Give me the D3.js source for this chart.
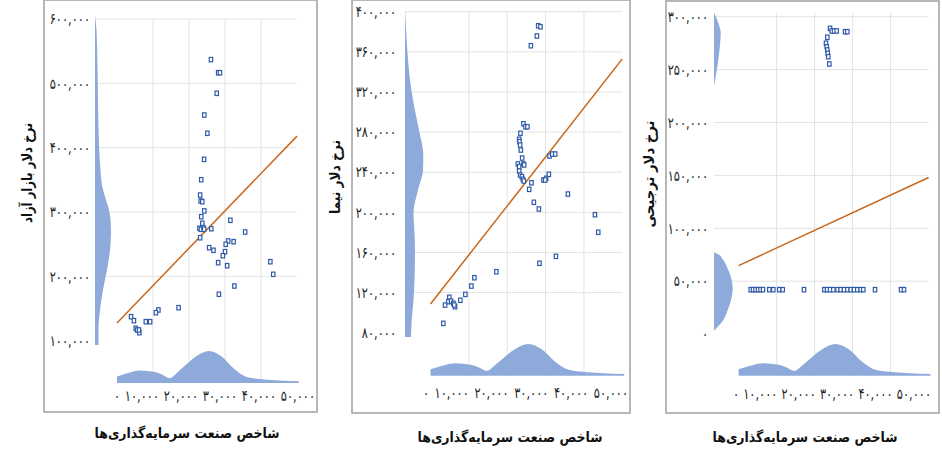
<!DOCTYPE html>
<html><head><meta charset="utf-8">
<script src="https://cdn.jsdelivr.net/npm/d3@7/dist/d3.min.js"></script>
<style>body{margin:0;background:#fff}svg{display:block}</style>
</head><body><svg id="c" width="942" height="455"></svg>
<script>
// ---------- DATA ----------
const xTitle = "شاخص صنعت سرمایه‌گذاری‌ها";
const yTitles = ["نرخ دلار بازار آزاد", "نرخ دلار نیما", "نرخ دلار ترجیحی"];
const xTicks = [0, 10000, 20000, 30000, 40000, 50000];
const yTicks1 = [100000, 200000, 300000, 400000, 500000, 600000];
const yTicks2 = [80000, 120000, 160000, 200000, 240000, 280000, 320000, 360000, 400000];
const yTicks3 = [0, 50000, 100000, 150000, 200000, 250000, 300000];

// Panel 1: free market rate
const p1X = [26100,28100,28600,27700,24250,25100,24200,23400,23100,23250,23700,24250,23400,23700,22900,23300,24000,24200,26200,23100,31500,35600,25600,26800,30900,32400,30200,30000,29400,28100,30600,42600,43400,32600,28300,17100,11500,10800,9200,8000,3900,4700,5200,5600,6200,6100];
const p1Y = [537000,516600,516600,484600,450800,422400,381900,350200,326400,317100,316000,301600,292700,282400,274700,273100,275600,273100,274000,260000,287100,268900,244500,240400,254900,253800,249800,238300,232000,221200,216500,222700,203100,184900,172000,151200,147600,143400,129400,129400,137200,131000,119100,116500,112300,116500];
// Panel 2: NIMA rate
const p2X = [28070,28670,27730,26160,24230,24750,25270,23450,23110,23190,23370,23550,23890,22770,23110,24230,24410,23110,23370,23810,24070,24330,26320,25720,26950,28250,31020,31720,32510,29450,30160,30860,29900,35820,42870,43730,32690,28410,17180,11440,10650,9090,7780,4910,4650,5350,5950,6400,6210,3790,3340];
const p2Y = [386000,385000,375800,366100,288300,285300,285300,278800,272800,270400,267100,262100,254100,248200,245500,248200,247200,241200,237200,235500,232900,231200,229500,222900,210000,203300,256100,258100,258100,232200,233900,237900,232200,218200,197600,180100,156100,149200,140800,134800,126500,118200,112300,115300,110900,111600,109300,105900,107600,107500,89300];
// Panel 3: preferential rate
const p3X = [24060,24500,25110,25820,28010,28610,23350,23000,23190,23350,23450,23610,23870,
  3180,3790,4450,5110,5760,6420,8080,9130,10710,11610,17210,22560,23270,24060,24930,26030,26870,27740,28610,29500,30370,31240,32140,32820,35900,42740,43530];
const p3Y = [289000,286500,286500,286500,285800,285800,280500,274900,271600,268500,265400,262200,255300,
  42000,42000,42000,42000,42000,42000,42000,42000,42000,42000,42000,42000,42000,42000,42000,42000,42000,42000,42000,42000,42000,42000,42000,42000,42000,42000,42000];

// linear fit lines (endpoints)
const trendX = [0, 50000];
const trend1Y = [127400, 418000];
const trend2Y = [108600, 353000];
const trend3Y = [64700, 148000];

// marginal density of the index (shared by all panels)
const xDensX = [0,3000,6500,10500,12500,14700,16500,18500,22000,25500,29000,32500,36000,41000,45000,50500];
const xDensV = [6.5,10,12.5,11,8.5,4.8,9.5,16,26.5,31.7,26.5,14,6,3.5,2.5,1.8];
// marginal densities of the rates
const yDens1V = [604800,583000,525500,474000,404000,365000,342000,318700,303000,287600,269000,241000,210000,178700,147600,116500,93000];
const yDens1D = [0,1.5,2.5,3,4,5.5,7,11,14,15.5,16,15,12,8,5,3.5,3.5];
const yDens2V = [403700,361800,331900,312000,282000,257100,242100,222200,199300,179400,159400,132500,112600,92700,75700];
const yDens2D = [0,2.3,5,8,14,18.3,18,13,8.5,9.5,10,9.5,8.5,6.7,6];
const yDens3V = [303800,292200,284600,273300,259100,244900,233300,77900,75000,70000,60500,51100,43300,32200,22700,13300,3200];
const yDens3D = [0,5,6.7,6,4.3,2,0,0,5,9.3,14.3,17.7,18.7,17,13.7,9.3,0];

// ---------- LAYOUT ----------
const panels = [
  {box:[44,0,317,412], xr:[117,297], ydom:[100000,600000], yr:[340.6,19.1], yt:yTicks1,
   lab:[120,315], labY:396, yLabR:90, dBase:95, dMax:16, xdBase:383, xdMax:32, gTop:19,
   xs:p1X, ys:p1Y, ty:trend1Y, dv:yDens1V, dd:yDens1D, tY:[27,173], tYL:100, tX:[187,433]},
  {box:[352,0,630,413], xr:[430.5,622.3], ydom:[80000,400000], yr:[332.7,11.7], yt:yTicks2,
   lab:[429,628], labY:393, yLabR:396, dBase:405, dMax:18.3, xdBase:375.7, xdMax:31.7, gTop:12,
   xs:p2X, ys:p2Y, ty:trend2Y, dv:yDens2V, dd:yDens2D, tY:[335,177], tYL:74, tX:[510,437]},
  {box:[666,1,939,413], xr:[738.6,928.6], ydom:[0,300000], yr:[334.1,16.7], yt:yTicks3,
   lab:[739,931], labY:394, yLabR:708, dBase:714, dMax:18.7, xdBase:375.7, xdMax:31.7, gTop:13,
   xs:p3X, ys:p3Y, ty:trend3Y, dv:yDens3V, dd:yDens3D, tY:[649,174], tYL:107, tX:[805,437]}
];

const fa = s => s.replace(/[0-9]/g, d => "۰۱۲۳۴۵۶۷۸۹"[+d]);
const fmt = v => fa(d3.format(",")(v));
const svg = d3.select("#c");
const FONT = "DejaVu Sans";
const XT_LEN = 185;

panels.forEach((p, i) => {
  const g = svg.append("g");
  const x = d3.scaleLinear().domain([0, 50000]).range(p.xr);
  const y = d3.scaleLinear().domain(p.ydom).range(p.yr);
  const xl = d3.scaleLinear().domain([0, 50000]).range(p.lab);
  const dw = d3.scaleLinear().domain([0, d3.max(p.dd)]).range([0, p.dMax]);
  const dh = d3.scaleLinear().domain([0, d3.max(xDensV)]).range([0, p.xdMax]);

  // box
  g.append("rect").attr("x", p.box[0]).attr("y", p.box[1])
    .attr("width", p.box[2]-p.box[0]).attr("height", p.box[3]-p.box[1])
    .attr("fill", "none").attr("stroke", "#a6a6a6").attr("stroke-width", 1.6);

  // grid
  g.append("g").selectAll("line").data(p.yt.slice(1)).join("line")
    .attr("x1", p.dBase).attr("x2", p.xr[1]).attr("y1", d => y(d)).attr("y2", d => y(d))
    .attr("stroke", "#e3e3e3").attr("stroke-width", 1);
  g.append("g").selectAll("line").data(xTicks.slice(1, -1)).join("line")
    .attr("x1", d => x(d)).attr("x2", d => x(d)).attr("y1", p.gTop).attr("y2", p.xdBase)
    .attr("stroke", "#e3e3e3").attr("stroke-width", 1);

  // y marginal density
  const yd = p.dv.map((v, k) => [v, p.dd[k]]);
  g.append("path").datum(yd)
    .attr("d", d3.area().curve(d3.curveMonotoneY)
      .y(d => y(d[0])).x0(p.dBase).x1(d => p.dBase + dw(d[1])))
    .attr("fill", "#8eaadb");

  // x marginal density
  const xd = xDensX.map((v, k) => [v, xDensV[k]]);
  g.append("path").datum(xd)
    .attr("d", d3.area().curve(d3.curveMonotoneX)
      .x(d => x(d[0])).y0(p.xdBase).y1(d => p.xdBase - dh(d[1])))
    .attr("fill", "#8eaadb");

  // trend line
  g.append("line")
    .attr("x1", x(trendX[0])).attr("y1", y(p.ty[0]))
    .attr("x2", x(trendX[1])).attr("y2", y(p.ty[1]))
    .attr("stroke", "#c9661a").attr("stroke-width", 1.5);

  // points
  g.append("g").selectAll("rect").data(p.xs.map((v, k) => [v, p.ys[k]])).join("rect")
    .attr("x", d => x(d[0]) - 1.7).attr("y", d => y(d[1]) - 2.2)
    .attr("width", 3.4).attr("height", 4.4)
    .attr("fill", "#fff").attr("stroke", "#2e5aa8").attr("stroke-width", 1.2);

  // y tick labels (taller, condensed digits)
  g.append("g").selectAll("text").data(p.yt).join("text")
    .attr("transform", d => `translate(${p.yLabR},${y(d)}) scale(0.76,1)`)
    .attr("dy", "0.35em")
    .attr("text-anchor", "end").attr("font-family", FONT).attr("font-size", 15)
    .attr("fill", "#222").text(d => fmt(d));

  // x tick labels
  g.append("g").selectAll("text").data(xTicks).join("text")
    .attr("transform", d => `translate(${xl(d)},${p.labY}) scale(0.76,1)`)
    .attr("dy", "0.35em")
    .attr("text-anchor", "end").attr("font-family", FONT).attr("font-size", 15)
    .attr("fill", "#222").text(d => fmt(d));

  // titles
  g.append("text").attr("transform", `translate(${p.tY[0]},${p.tY[1]}) rotate(-90)`)
    .attr("text-anchor", "middle").attr("dy", "0.35em")
    .attr("font-family", FONT).attr("font-weight", "bold").attr("font-size", 14.5)
    .attr("textLength", p.tYL).attr("lengthAdjust", "spacingAndGlyphs")
    .attr("fill", "#111").text(yTitles[i]);
  g.append("text").attr("x", p.tX[0]).attr("y", p.tX[1]).attr("dy", "0.35em")
    .attr("text-anchor", "middle")
    .attr("font-family", FONT).attr("font-weight", "bold").attr("font-size", 14)
    .attr("textLength", XT_LEN).attr("lengthAdjust", "spacingAndGlyphs")
    .attr("fill", "#111").text(xTitle);
});
</script></body></html>
